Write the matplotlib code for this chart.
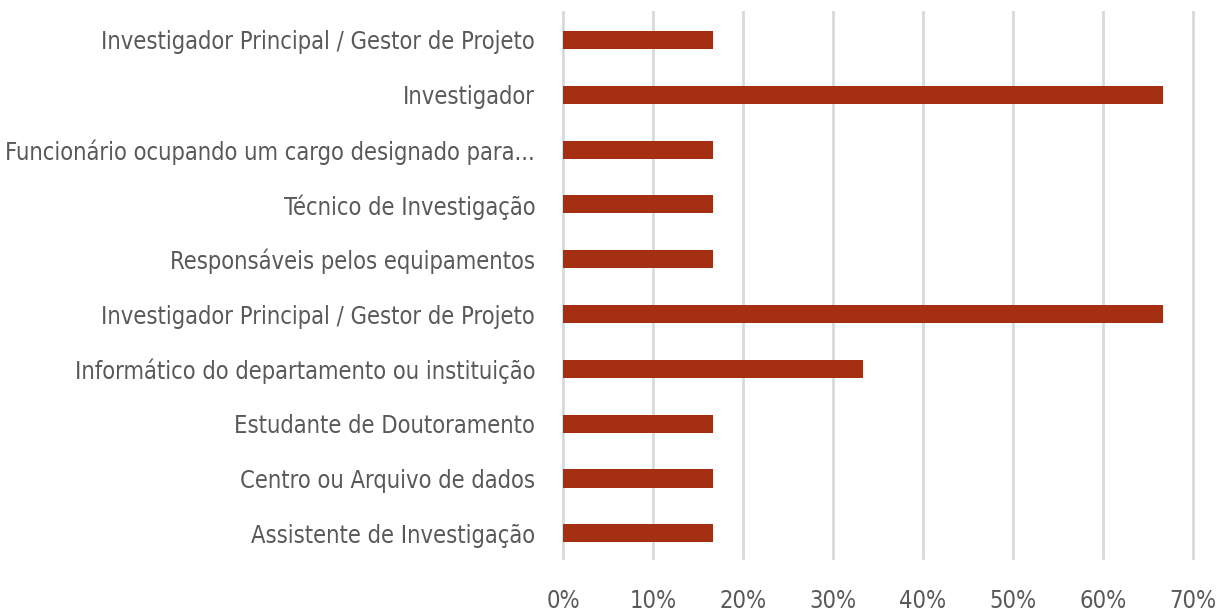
import matplotlib
matplotlib.use('Agg')
import matplotlib.pyplot as plt
from matplotlib.ticker import PercentFormatter

plt.rcParams['font.family'] = ['DejaVu Sans']
plt.rcParams['font.stretch'] = 'condensed'

# categories, top to bottom as shown
cats = ['Investigador Principal / Gestor de Projeto',
        'Investigador',
        'Funcionário ocupando um cargo designado para...',
        'Técnico de Investigação',
        'Responsáveis pelos equipamentos',
        'Investigador Principal / Gestor de Projeto',
        'Informático do departamento ou instituição',
        'Estudante de Doutoramento',
        'Centro ou Arquivo de dados',
        'Assistente de Investigação']
vals = [16.67, 66.67, 16.67, 16.67, 16.67, 66.67, 33.33, 16.67, 16.67, 16.67]
xticks = [0, 10, 20, 30, 40, 50, 60, 70]

txt = '#595959'
fig = plt.figure(figsize=(12.21, 6.12), dpi=100)
ax = fig.add_axes([563/1221, 1 - 558/612, 630/1221, 546/612])

pos = list(range(len(cats)))
ax.barh(pos, vals, height=0.33, color='#A52F12', zorder=3)
ax.set_xlim(0, 70)
ax.set_ylim(9.45, -0.51)
ax.set_xticks(xticks)
ax.xaxis.set_major_formatter(PercentFormatter(decimals=0))
ax.set_yticks(pos)
ax.set_yticklabels(cats)
ax.grid(axis='x', color='#D9D9D9', linewidth=2, zorder=0)
for gl in ax.get_xgridlines():
    gl.set_clip_on(False)
for s in ax.spines.values():
    s.set_visible(False)
ax.tick_params(axis='both', length=0, labelsize=17, colors=txt)
ax.tick_params(axis='y', pad=20)
ax.tick_params(axis='x', pad=22)

fig.savefig('out.png', dpi=100)
